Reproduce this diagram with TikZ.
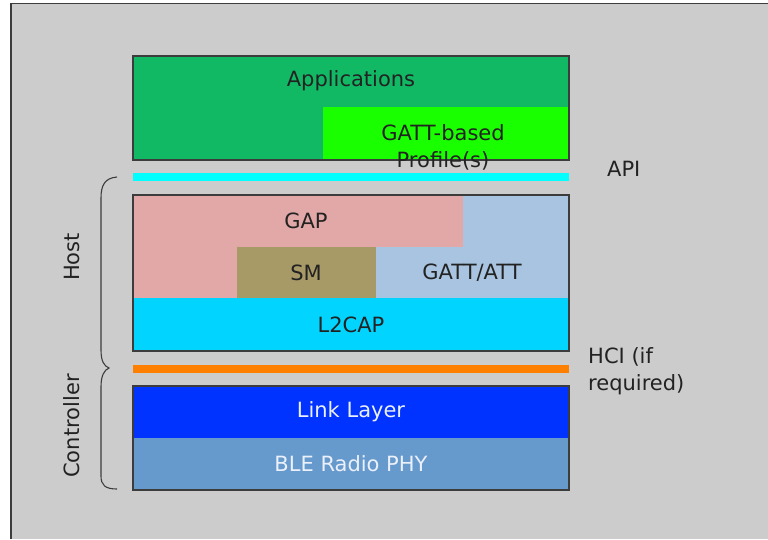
\documentclass[tikz,border=0pt]{standalone}
\usepackage{fontspec}
\setmainfont{DejaVu Sans}
\definecolor{framegray}{RGB}{204,204,204}
\definecolor{edgegray}{RGB}{60,60,60}
\definecolor{textdark}{RGB}{34,34,34}
\definecolor{appgreen}{RGB}{17,185,101}
\definecolor{profgreen}{RGB}{26,255,0}
\definecolor{apicyan}{RGB}{0,255,255}
\definecolor{gappink}{RGB}{226,168,168}
\definecolor{smolive}{RGB}{168,154,102}
\definecolor{attblue}{RGB}{168,196,224}
\definecolor{lcapcyan}{RGB}{0,212,255}
\definecolor{hciorange}{RGB}{255,128,0}
\definecolor{linkblue}{RGB}{0,51,255}
\definecolor{phyblue}{RGB}{102,153,204}
\definecolor{textlight}{RGB}{235,240,250}
\begin{document}
\begin{tikzpicture}[x=1pt,y=-1pt,
		layertext/.style={text=textdark,font=\fontsize{21}{27}\selectfont,inner sep=0pt,align=center},
		sidetext/.style={layertext,align=left},
		stackedge/.style={draw=edgegray,line width=1.2pt}]
		\useasboundingbox (0,0) rectangle (768,539);
		
		% Background frame
		\fill[framegray] (11,3.5) rectangle (768,539);
		\draw[edgegray,line width=1.5pt] (11,539) -- (11,3.5) -- (768,3.5);
		
		% Applications block
		\fill[appgreen] (133,56) rectangle (569,160);
		\fill[profgreen] (323,107) rectangle (569,160);
		\draw[stackedge] (133,56) rectangle (569,160);
		\node[layertext] (apps) at (351,81) {Applications};
		\node[layertext] (profiles) at (443,147) {GATT-based\\Profile(s)};
		
		% API bar
		\fill[apicyan] (133,173) rectangle (569,181);
		\node[sidetext,anchor=west] (api) at (607,169) {API};
		
		% Host block
		\fill[gappink] (133,195) rectangle (463,298);
		\fill[attblue] (463,195) rectangle (569,298);
		\fill[smolive] (237,247) rectangle (376,298);
		\fill[attblue] (376,247) rectangle (569,298);
		\fill[lcapcyan] (133,298) rectangle (569,351);
		\draw[stackedge] (133,195) rectangle (569,351);
		\node[layertext] (gap) at (306,221) {GAP};
		\node[layertext] (sm) at (306,273) {SM};
		\node[layertext] (gattatt) at (472,273) {GATT/ATT};
		\node[layertext] (lcap) at (351,325) {L2CAP};
		
		% HCI bar
		\fill[hciorange] (133,365) rectangle (569,373);
		\node[sidetext,anchor=west] (hci) at (588,371) {HCI (if\\required)};
		
		% Controller block
		\fill[linkblue] (133,386) rectangle (569,438);
		\fill[phyblue] (133,438) rectangle (569,490);
		\draw[stackedge] (133,386) rectangle (569,490);
		\node[layertext,text=textlight] (link) at (351,412) {Link Layer};
		\node[layertext,text=textlight] (phy) at (351,464) {BLE Radio PHY};
		
		% Host / Controller braces
		\draw[edgegray,line width=1.1pt] (117,177) .. controls (105,178) and (101,185) .. (101,198)
			-- (101,350) .. controls (101,361) and (104,366) .. (109,368)
			.. controls (104,370) and (101,376) .. (101,387)
			-- (101,476) .. controls (101,485) and (105,489) .. (117,489);
		\node[layertext,rotate=90] (host) at (72,257) {Host};
		\node[layertext,rotate=90] (ctrl) at (72,426) {Controller};
	\end{tikzpicture}
\end{document}
